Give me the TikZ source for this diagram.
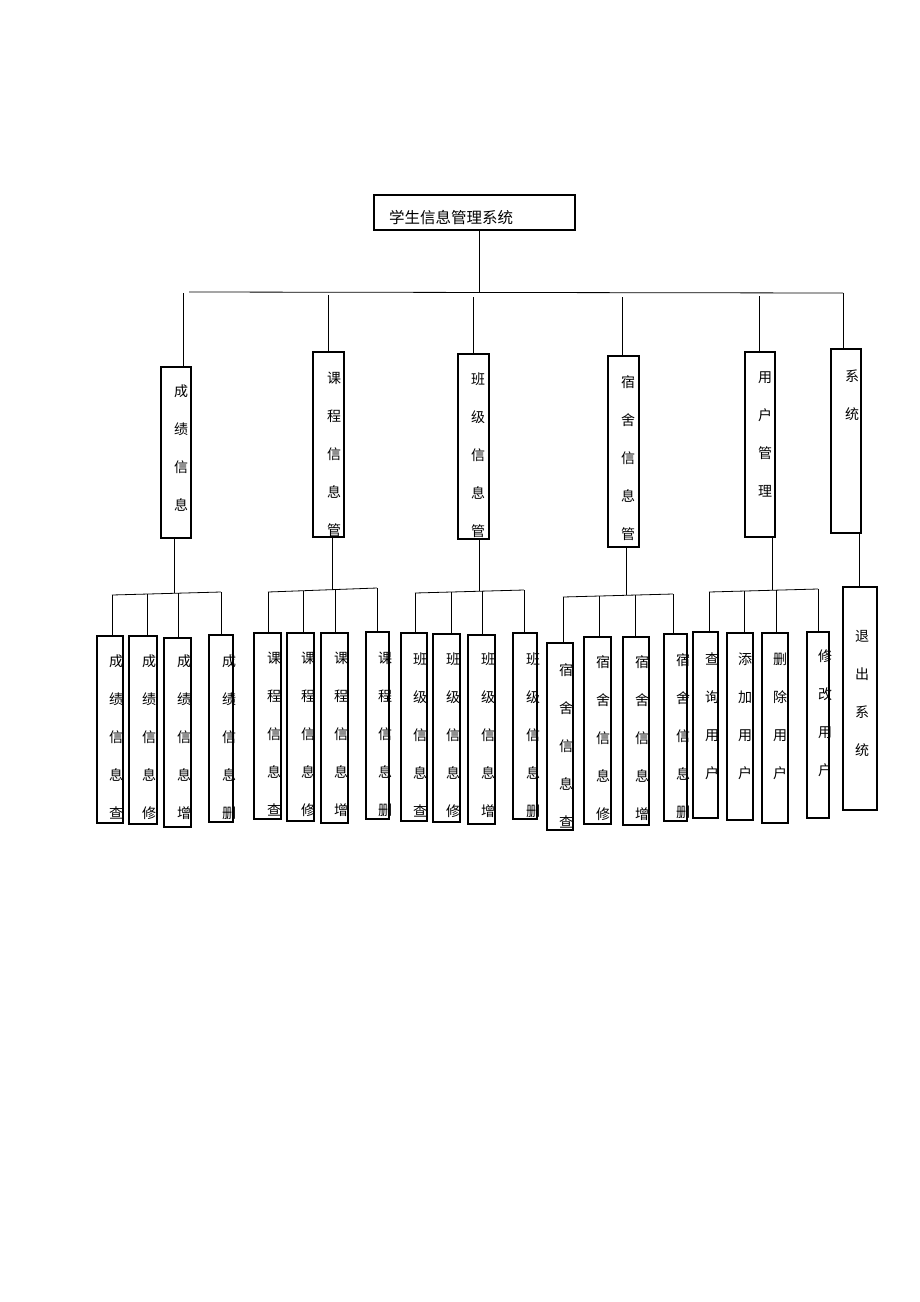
\documentclass[tikz,border=0pt]{standalone}
\usepackage{fontspec}
\newfontfamily\cjk{Noto Sans CJK SC}
\tikzset{
  box/.style={draw, line width=1.1pt, inner sep=0pt, outer sep=0pt, anchor=north west},
  ln/.style={line width=0.8pt},
  txt/.style={font=\cjk\fontsize{14}{38}\selectfont, align=center, inner sep=0pt, anchor=north},
  ttl/.style={font=\cjk\fontsize{15.5}{18}\selectfont, inner sep=0pt, anchor=center}
}
\newcommand\mkbox[5]{\node[box, minimum width={#4-#2}, minimum height={#5-#3}] (#1) at (#2,#3) {};}
\newcommand\mktxt[4]{\node[txt] (#1) at (#2,{#3-7}) {#4};}
\begin{document}
\begin{tikzpicture}[x=1pt,y=-1pt]
\fill[white] (0,0) rectangle (920,1302);
\useasboundingbox (0,0) rectangle (920,1302);

% top
\mkbox{top}{374}{195}{575}{230}
\node[ttl] (toptxt) at (451,218) {学生信息管理系统};

% main bus
\coordinate (busL) at (189,292);
\coordinate (busR) at (843,293);
\coordinate (t0) at (479,292);
\draw[ln] (top.south -| t0) -- (t0);
\draw[ln] (busL) -- (busR);

% level 1 boxes
\mkbox{L1}{161}{367}{191}{538}
\mkbox{L2}{313}{352}{344}{537}
\mkbox{L3}{458}{354}{489}{539}
\mkbox{L4}{608}{356}{639}{547}
\mkbox{L5}{745}{352}{775}{537}
\mkbox{L6}{831}{349}{861}{533}
\mktxt{L1t}{181}{392}{成\\绩\\信\\息}
\mktxt{L2t}{334}{379}{课\\程\\信\\息\\管}
\mktxt{L3t}{478}{380}{班\\级\\信\\息\\管}
\mktxt{L4t}{628}{382}{宿\\舍\\信\\息\\管}
\mktxt{L5t}{765}{379}{用\\户\\管\\理}
\mktxt{L6t}{852}{377}{系\\统}

% level 1 connectors
\coordinate (a1) at (183,293);
\coordinate (a2) at (328,295);
\coordinate (a3) at (473,297);
\coordinate (a4) at (622,297);
\coordinate (a5) at (759,296);
\coordinate (a6) at (843,293);
\draw[ln] (a1) -- (a1 |- L1.north);
\draw[ln] (a2) -- (a2 |- L2.north);
\draw[ln] (a3) -- (a3 |- L3.north);
\draw[ln] (a4) -- (a4 |- L4.north);
\draw[ln] (a5) -- (a5 |- L5.north);
\draw[ln] (a6) -- (a6 |- L6.north);

% ---------- group 1 ----------
\coordinate (p1) at (174,593);
\draw[ln] (p1 |- L1.south) -- (p1);
\coordinate (c11) at (112,595);
\coordinate (c12) at (147,594);
\coordinate (c13) at (178,593);
\coordinate (c14) at (221,592);
\draw[ln] (c11) -- (c14);
\mkbox{M11}{97}{636}{123}{823}
\mkbox{M12}{129}{636}{157}{824}
\mkbox{M13}{164}{638}{191}{827}
\mkbox{M14}{209}{635}{233}{822}
\draw[ln] (c11) -- (c11 |- M11.north);
\draw[ln] (c12) -- (c12 |- M12.north);
\draw[ln] (c13) -- (c13 |- M13.north);
\draw[ln] (c14) -- (c14 |- M14.north);
\mktxt{M11t}{116}{662}{成\\绩\\信\\息\\查}
\mktxt{M12t}{149}{662}{成\\绩\\信\\息\\修}
\mktxt{M13t}{184}{662}{成\\绩\\信\\息\\增}
\mktxt{M14t}{229}{662}{成\\绩\\信\\息\\删}

% ---------- group 2 ----------
\coordinate (p2) at (332,590);
\draw[ln] (p2 |- L2.south) -- (p2);
\coordinate (c21) at (268,592);
\coordinate (c22) at (303,591);
\coordinate (c23) at (335,590);
\coordinate (c24) at (377,588);
\draw[ln] (c21) -- (c24);
\mkbox{M21}{254}{633}{281}{819}
\mkbox{M22}{287}{633}{314}{821}
\mkbox{M23}{321}{633}{348}{823}
\mkbox{M24}{366}{632}{389}{819}
\draw[ln] (c21) -- (c21 |- M21.north);
\draw[ln] (c22) -- (c22 |- M22.north);
\draw[ln] (c23) -- (c23 |- M23.north);
\draw[ln] (c24) -- (c24 |- M24.north);
\mktxt{M21t}{274}{659}{课\\程\\信\\息\\查}
\mktxt{M22t}{308}{659}{课\\程\\信\\息\\修}
\mktxt{M23t}{341}{659}{课\\程\\信\\息\\增}
\mktxt{M24t}{385}{659}{课\\程\\信\\息\\删}

% ---------- group 3 ----------
\coordinate (p3) at (479,591);
\draw[ln] (p3 |- L3.south) -- (p3);
\coordinate (c31) at (415,593);
\coordinate (c32) at (451,592);
\coordinate (c33) at (482,591);
\coordinate (c34) at (524,590);
\draw[ln] (c31) -- (c34);
\mkbox{M31}{401}{633}{427}{821}
\mkbox{M32}{433}{634}{460}{822}
\mkbox{M33}{468}{635}{495}{824}
\mkbox{M34}{513}{633}{537}{819}
\draw[ln] (c31) -- (c31 |- M31.north);
\draw[ln] (c32) -- (c32 |- M32.north);
\draw[ln] (c33) -- (c33 |- M33.north);
\draw[ln] (c34) -- (c34 |- M34.north);
\mktxt{M31t}{420}{660}{班\\级\\信\\息\\查}
\mktxt{M32t}{453}{660}{班\\级\\信\\息\\修}
\mktxt{M33t}{488}{660}{班\\级\\信\\息\\增}
\mktxt{M34t}{533}{660}{班\\级\\信\\息\\删}

% ---------- group 4 ----------
\coordinate (p4) at (626,595);
\draw[ln] (p4 |- L4.south) -- (p4);
\coordinate (c41) at (563,597);
\coordinate (c42) at (599,596);
\coordinate (c43) at (635,595);
\coordinate (c44) at (673,594);
\draw[ln] (c41) -- (c44);
\mkbox{M41}{547}{643}{573}{830}
\mkbox{M42}{584}{637}{611}{824}
\mkbox{M43}{623}{637}{649}{825}
\mkbox{M44}{664}{634}{687}{821}
\draw[ln] (c41) -- (c41 |- M41.north);
\draw[ln] (c42) -- (c42 |- M42.north);
\draw[ln] (c43) -- (c43 |- M43.north);
\draw[ln] (c44) -- (c44 |- M44.north);
\mktxt{M41t}{566}{670}{宿\\舍\\信\\息\\查}
\mktxt{M42t}{603}{662}{宿\\舍\\信\\息\\修}
\mktxt{M43t}{642}{662}{宿\\舍\\信\\息\\增}
\mktxt{M44t}{683}{660}{宿\\舍\\信\\息\\删}

% ---------- group 5 ----------
\coordinate (p5) at (772,590);
\draw[ln] (p5 |- L5.south) -- (p5);
\coordinate (c51) at (709,592);
\coordinate (c52) at (744,591);
\coordinate (c53) at (776,590);
\coordinate (c54) at (818,589);
\draw[ln] (c51) -- (c54);
\mkbox{M51}{693}{632}{718}{818}
\mkbox{M52}{727}{633}{753}{820}
\mkbox{M53}{762}{633}{788}{823}
\mkbox{M54}{807}{632}{829}{818}
\draw[ln] (c51) -- (c51 |- M51.north);
\draw[ln] (c52) -- (c52 |- M52.north);
\draw[ln] (c53) -- (c53 |- M53.north);
\draw[ln] (c54) -- (c54 |- M54.north);
\mktxt{M51t}{712}{660}{查\\询\\用\\户}
\mktxt{M52t}{745}{660}{添\\加\\用\\户}
\mktxt{M53t}{780}{660}{删\\除\\用\\户}
\mktxt{M54t}{825}{657}{修\\改\\用\\户}

% ---------- group 6 ----------
\mkbox{M61}{843}{587}{877}{810}
\coordinate (p6) at (859,560);
\draw[ln] (p6 |- L6.south) -- (p6 |- M61.north);
\mktxt{M61t}{862}{637}{退\\出\\系\\统}
\end{tikzpicture}
\end{document}
